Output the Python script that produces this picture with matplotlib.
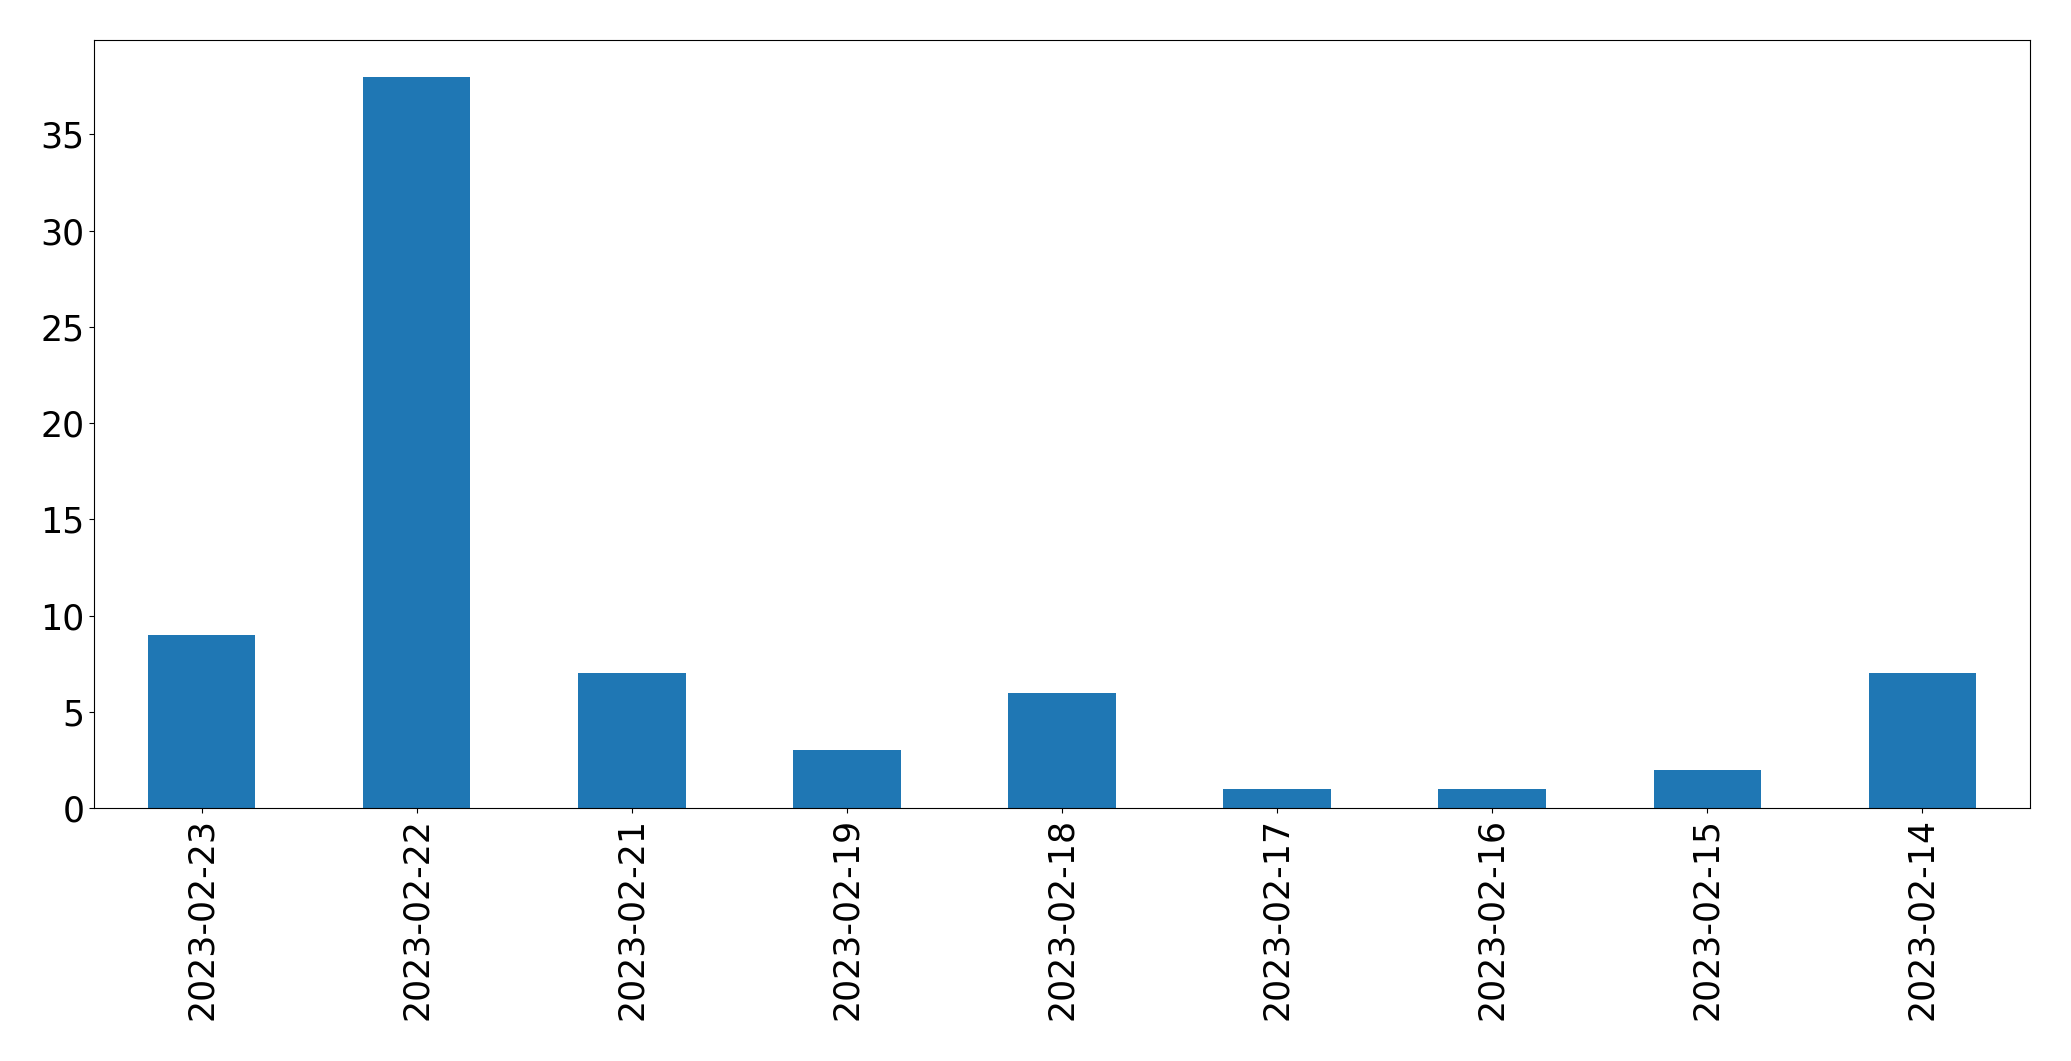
import matplotlib
matplotlib.use("Agg")
import matplotlib.pyplot as plt
import numpy as np

dates = ["2023-02-23", "2023-02-22", "2023-02-21", "2023-02-19", "2023-02-18",
         "2023-02-17", "2023-02-16", "2023-02-15", "2023-02-14"]
counts = [9, 38, 7, 3, 6, 1, 1, 2, 7]

fig = plt.figure(figsize=(20.71, 10.61), dpi=100)
ax = fig.add_axes([94/2071, 1 - 808/1061, (2030-94)/2071, (808-40)/1061])
x = np.arange(len(dates))
ax.bar(x, counts, width=0.5, color="#1f77b4")
ax.set_xlim(-0.5, len(dates) - 0.5)
ax.set_ylim(0, 38 * 1.05)
ax.set_xticks(x)
ax.set_xticklabels(dates, rotation=90, fontsize=25)
ax.tick_params(axis="y", labelsize=25)
fig.savefig("out.png", dpi=100)
